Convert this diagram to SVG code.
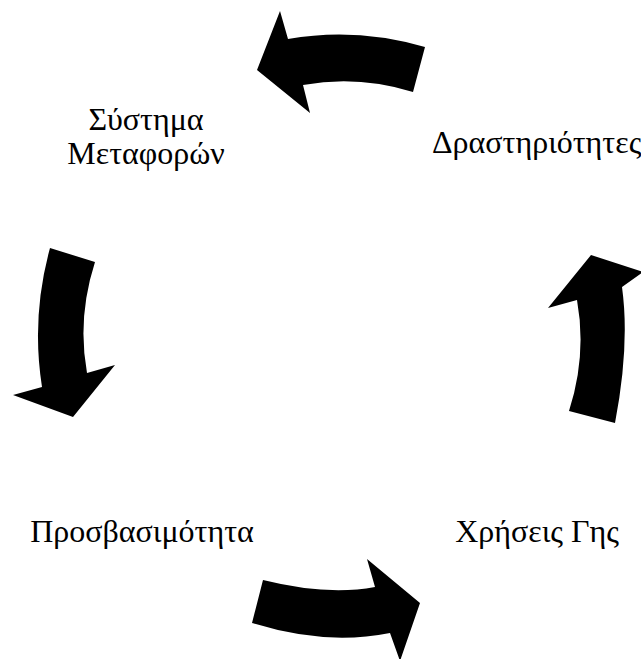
<svg xmlns="http://www.w3.org/2000/svg" width="641" height="659" viewBox="0 0 641 659">
<style>
  .lbl { font-family: "Liberation Serif", "Times New Roman", serif; font-size: 32px; fill: #000; text-anchor: middle; }
  .arr { fill: #000; stroke: none; }
</style>
<rect width="641" height="659" fill="#fff"/>
<g id="connectors">
  <path class="arr" d="M 257,70 L 280,11 L 288,39 Q 356,27 425,47 L 413,92 Q 358,75 303,85 L 310,113 Z"/>
  <path class="arr" d="M 50,248 L 95,262 Q 77,318 87,373 L 115,365 L 73,417 L 13,395 L 42,387 Q 31,317 50,248 Z"/>
  <path class="arr" d="M 263,580 Q 327,596 375,587 L 367,559 L 420,603 L 400,661 L 390,633 Q 325,646 252,623 Z"/>
  <path class="arr" d="M 591,255 L 643,272 L 622,287 Q 630,345 615,423 L 569,411 Q 587,355 577,300 L 548,308 Z"/>
</g>
<g id="node-transport">
  <text class="lbl" x="146" y="130">Σύστημα</text>
  <text class="lbl" x="146" y="164">Μεταφορών</text>
</g>
<g id="node-activities">
  <text class="lbl" x="432" y="153" style="text-anchor:start">Δραστηριότητες</text>
</g>
<g id="node-landuse">
  <text class="lbl" x="537" y="542">Χρήσεις Γης</text>
</g>
<g id="node-accessibility">
  <text class="lbl" x="142" y="542">Προσβασιμότητα</text>
</g>
</svg>
